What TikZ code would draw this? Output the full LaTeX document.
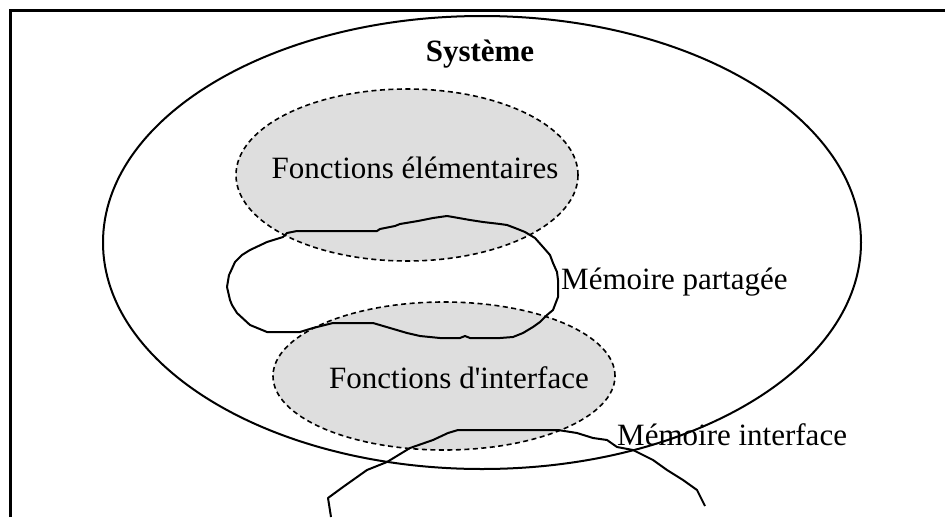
\documentclass[tikz,border=0pt]{standalone}
\usepackage{fontspec}
\setmainfont{Liberation Serif}[Ligatures=TeXOff]
\definecolor{fillgray}{gray}{0.87}
\tikzset{
  frameline/.style={line width=2.4pt, line cap=butt},
  bigline/.style={line width=2pt},
  dashell/.style={line width=1.6pt, dash pattern=on 5pt off 3.5pt, fill=fillgray},
  memline/.style={line width=2pt, line join=round},
  lbl/.style={inner sep=0pt, font=\fontsize{31pt}{36pt}\selectfont},
  lblb/.style={inner sep=0pt, font=\fontsize{31pt}{36pt}\selectfont\bfseries}
}
\begin{document}
\begin{tikzpicture}[x=1pt, y=-1pt]
\useasboundingbox (0,0) rectangle (945,517);
% frame
\coordinate (fbl) at (10.5,517);
\coordinate (ftl) at (10.5,10.5);
\coordinate (ftr) at (945,10.5);
\draw[frameline] (fbl) -- (ftl) -- (ftr);
% shapes
\draw[bigline] (482,242.5) ellipse [x radius=379pt, y radius=226.5pt];
\draw[dashell] (407,175) ellipse [x radius=171pt, y radius=86pt];
\draw[dashell] (444,376) ellipse [x radius=171pt, y radius=74pt];
% shared memory blob
\draw[memline] (283,237) -- (287,233) -- (297,231) -- (377,231) -- (380,229) -- (395,226)
  -- (400,224) -- (418,221) -- (433,218) -- (440,217) -- (447,216) -- (453,217) -- (470,220)
  -- (483,222) -- (500,224) -- (507,225) -- (515,228) -- (525,232) -- (535,238) -- (543,247)
  -- (550,255) -- (553,263) -- (557,272) -- (558,280) -- (558,297) -- (553,310) -- (547,315)
  -- (540,322) -- (533,327) -- (523,333) -- (513,337) -- (500,338) -- (470,338) -- (465,336)
  -- (460,338) -- (440,338) -- (420,336) -- (407,333) -- (390,328) -- (373,323) -- (333,323)
  -- (313,328) -- (300,332) -- (267,332) -- (250,325) -- (237,313) -- (232,305) -- (230,300)
  -- (227,287) -- (229,275) -- (230,273) -- (235,262) -- (242,255) -- (250,250) -- (267,242)
  -- cycle;
% interface memory curve
\coordinate (mi0) at (331,517);
\coordinate (mi1) at (705,506);
\draw[memline] (mi0) -- (328,498) -- (343,487) -- (367,470) -- (387,462) -- (410,448)
  -- (433,440) -- (448,433) -- (458,430) -- (558,430) -- (577,433) -- (593,438) -- (607,440)
  -- (617,447) -- (633,450) -- (653,460) -- (667,470) -- (683,480) -- (697,490) -- (702,500)
  -- (mi1);
% labels
\node[lblb] (sys) at (480,54) {Système};
\node[lbl] (fe) at (415,168) {Fonctions élémentaires};
\node[lbl, anchor=west] (mp) at (561,282) {Mémoire partagée};
\node[lbl] (fi) at (459,378) {Fonctions d'interface};
\node[lbl, anchor=west] (mif) at (617,435) {Mémoire interface};
\end{tikzpicture}
\end{document}
